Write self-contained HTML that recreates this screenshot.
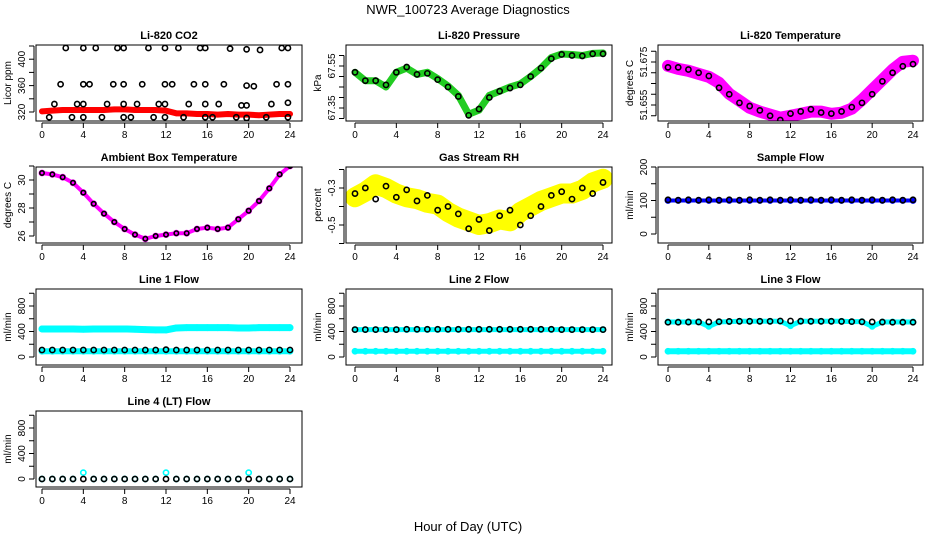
<!DOCTYPE html>
<html><head><meta charset="utf-8"><style>
html,body{margin:0;padding:0;background:#fff}
svg{display:block;font-family:"Liberation Sans",sans-serif}
</style></head><body>
<svg id="c" width="936" height="540" viewBox="0 0 936 540">
<text x="468" y="14" text-anchor="middle" font-size="13">NWR_100723  Average Diagnostics</text>
<text x="468" y="531" text-anchor="middle" font-size="13">Hour of Day (UTC)</text>
</svg>
<script>
const hours=[0,1,2,3,4,5,6,7,8,9,10,11,12,13,14,15,16,17,18,19,20,21,22,23,24];
const xTicks=[0,4,8,12,16,20,24];
// CO2
const co2Red=[321,322,323,323,323,323,323,324,324,323,323,323,322,318,318,317,317,316,317,316,316,315,316,317,317];
const co2BlackH=[0.7,1.2,1.8,2.3,2.9,3.4,4,4,4,4,4.6,5.2,5.8,6.3,6.9,7.3,7.9,7.9,7.9,7.9,8.6,9.2,9.7,10.3,10.8,11.3,11.9,11.9,11.9,11.9,12.6,13.2,13.7,14.2,14.7,15.3,15.8,15.8,15.8,15.8,16.5,17.1,17.6,18.2,18.8,19.3,19.8,19.8,19.8,19.8,20.5,21.1,21.7,22.2,22.7,23.2,23.8,23.8,23.8,23.8];
const co2BlackV=[312,332,362,417,312,332,332,417,362,312,362,417,312,332,362,417,417,362,332,312,312,332,362,417,312,332,417,362,332,312,362,417,312,332,362,417,417,362,332,312,312,332,362,416,312,330,415,360,330,311,359,414,312,332,362,417,417,362,334,312];
// Pressure
const presGreen=[67.52,67.48,67.48,67.45,67.52,67.54,67.51,67.52,67.49,67.455,67.41,67.32,67.34,67.41,67.43,67.45,67.465,67.50,67.54,67.59,67.607,67.605,67.60,67.61,67.612];
const presBlack=[67.52,67.48,67.48,67.46,67.52,67.545,67.51,67.515,67.485,67.45,67.405,67.315,67.345,67.40,67.43,67.445,67.46,67.50,67.54,67.585,67.605,67.60,67.598,67.608,67.608];
// Li-820 temperature
const tempMag=[51.6732,51.6718,51.6709,51.6695,51.6681,51.6653,51.6602,51.6570,51.6537,51.6519,51.6505,51.6491,51.6500,51.6509,51.6519,51.6519,51.6509,51.6514,51.6533,51.6574,51.6621,51.6667,51.6714,51.6751,51.6756];
const tempBlack=[51.6725,51.6725,51.6715,51.6700,51.6685,51.6630,51.6600,51.6560,51.6545,51.6525,51.6500,51.6480,51.6510,51.6520,51.6530,51.6515,51.6510,51.6520,51.6540,51.6560,51.6600,51.6660,51.6700,51.6730,51.6740];
// Ambient
const ambMag=[30.5,30.4,30.2,29.8,29.1,28.3,27.6,27.0,26.5,26.1,25.8,26.0,26.1,26.2,26.2,26.5,26.6,26.5,26.6,27.2,27.8,28.5,29.4,30.4,31.0];
// RH
const rhYellow=[-0.35,-0.32,-0.28,-0.30,-0.33,-0.35,-0.36,-0.38,-0.39,-0.43,-0.46,-0.48,-0.50,-0.49,-0.47,-0.48,-0.43,-0.40,-0.37,-0.35,-0.33,-0.33,-0.31,-0.27,-0.25];
const rhBlack=[-0.33,-0.30,-0.36,-0.29,-0.35,-0.31,-0.37,-0.34,-0.42,-0.40,-0.44,-0.52,-0.47,-0.53,-0.45,-0.42,-0.50,-0.45,-0.40,-0.34,-0.32,-0.36,-0.30,-0.33,-0.27];
// Sample flow
const sampBlue=[100,100,100,100,100,100,100,100,100,100,100,100,100,100,100,100,100,100,100,100,100,100,100,100,100];
const sampBlack=[102,101,102,101,102,101,102,101,102,101,102,101,102,101,102,101,102,101,102,101,102,101,102,101,102];
// Line flows
const l1Hi=[440,440,440,440,435,440,440,440,440,435,430,425,425,455,460,460,460,460,460,455,455,460,460,460,460];
const l1Lo=[90,90,90,90,90,90,90,90,90,90,90,90,90,90,90,90,90,90,90,90,90,90,90,90,90];
const l1Black=[110,110,110,110,110,110,110,110,110,110,110,110,115,110,110,110,110,110,110,110,110,110,110,110,110];
const l2Hi=[430,430,430,430,430,430,430,430,430,430,430,430,430,430,430,430,430,430,430,430,430,430,430,430,430];
const l2Lo=[90,90,90,90,90,90,90,90,90,90,90,90,90,90,90,90,90,90,90,90,90,90,90,90,90];
const l2Black=[430,430,430,430,430,435,435,435,435,435,435,435,435,435,435,435,435,435,435,435,430,430,430,430,430];
const l3Hi=[550,550,550,550,480,550,555,560,560,560,560,560,490,560,560,560,560,560,555,555,480,550,550,550,550];
const l3Lo=[90,90,90,90,90,90,90,90,90,90,90,90,90,90,90,90,90,90,90,90,90,90,90,90,90];
const l3Black=[545,545,548,550,550,555,558,560,560,560,560,565,565,562,560,560,560,558,555,552,550,548,545,545,545];
const l4Cyan=[0,0,0,0,100,0,0,0,0,0,0,0,100,0,0,0,0,0,0,0,100,0,0,0,0];
const l4Black=[0,0,0,0,0,0,0,0,0,0,0,0,0,0,0,0,0,0,0,0,0,0,0,0,0];

const svg=document.getElementById('c');
const NS='http://www.w3.org/2000/svg';
function mk(tag,attrs,parent){const e=document.createElementNS(NS,tag);for(const k in attrs)e.setAttribute(k,attrs[k]);parent.appendChild(e);return e;}
const cols=[{l:36,r:302,x0:42,x24:290},{l:346,r:612,x0:355,x24:603},{l:658,r:923,x0:668,x24:913}];
function panel(p){
  const c=cols[p.col];const top=45+p.row*122;const bot=top+76;
  const g=mk('g',{},svg);
  
  
  const xs=h=>c.x0+(c.x24-c.x0)*h/24;
  const ys=v=>top+p.y1+(v-p.v1)*(p.y2-p.y1)/(p.v2-p.v1);
  const t=mk('text',{x:(c.l+c.r)/2,y:top-6,'text-anchor':'middle','font-size':11,'font-weight':'bold'},g);t.textContent=p.title;
  
  
  const clip='clip'+p.name;
  const cp=mk('clipPath',{id:clip},g);mk('rect',{x:c.l,y:top,width:c.r-c.l,height:76},cp);
  const pg=mk('g',{'clip-path':'url(#'+clip+')'},g);
  p.series.forEach(s=>{
    const sg=mk('g',{},pg);
    
    
    if(s.band){mk('polyline',{points:s.y.map((v,i)=>xs(s.x[i])+','+ys(v)).join(' '),fill:'none',stroke:s.color,'stroke-width':s.band,'stroke-linejoin':'round','stroke-linecap':'round'},sg);}
    s.y.forEach((v,i)=>{mk('circle',{cx:xs(s.x[i]),cy:ys(v),r:s.r||2.6,fill:'none',stroke:s.color,'stroke-width':s.sw||1.6},sg);});
  });
  mk('rect',{x:c.l,y:top,width:c.r-c.l,height:76,fill:'none',stroke:'#000','stroke-width':1},g);
  const ax=mk('g',{},g);
  
  
  mk('line',{x1:c.x0,y1:bot+2,x2:c.x24,y2:bot+2,stroke:'#000'},ax);
  xTicks.forEach(h=>{mk('line',{x1:xs(h),y1:bot+2,x2:xs(h),y2:bot+7,stroke:'#000'},ax);const tt=mk('text',{x:xs(h),y:bot+17,'text-anchor':'middle','font-size':10},ax);tt.textContent=h;});
  const ay=mk('g',{},g);
  
  
  const yt=p.ticks.map(ys);
  mk('line',{x1:c.l-2,y1:Math.min(...yt),x2:c.l-2,y2:Math.max(...yt),stroke:'#000'},ay);
  p.ticks.forEach(v=>mk('line',{x1:c.l-7,y1:ys(v),x2:c.l-2,y2:ys(v),stroke:'#000'},ay));
  p.labels.forEach(v=>{const y=ys(v);const tt=mk('text',{x:c.l-11,y:y,'text-anchor':'middle','font-size':10,transform:'rotate(-90 '+(c.l-11)+' '+y+')'},ay);tt.textContent=v;});
  const yl=mk('text',{x:c.l-25,y:(top+bot)/2,'text-anchor':'middle','font-size':10,transform:'rotate(-90 '+(c.l-25)+' '+((top+bot)/2)+')'},g);yl.textContent=p.ylab;
  
  
}
const flowT=[0,200,400,600,800,1000],flowL=[0,400,800];
panel({name:'co2-panel',col:0,row:0,title:'Li-820 CO2',ylab:'Licor ppm',v1:420,y1:1,v2:320,y2:67,ticks:[320,340,360,380,400,420],labels:[320,360,400],
 series:[{name:'co2-avg',x:hours,y:co2Red,color:'#ff0000',band:6,r:2},{name:'co2-samples',x:co2BlackH,y:co2BlackV,color:'#000'}]});
panel({name:'pressure-panel',col:1,row:0,title:'Li-820 Pressure',ylab:'kPa',v1:67.55,y1:21,v2:67.35,y2:63,ticks:[67.30,67.35,67.40,67.45,67.50,67.55,67.60],labels:[67.35,67.55],
 series:[{name:'pressure-avg',x:hours,y:presGreen,color:'#22cc22',band:7},{name:'pressure-samples',x:hours,y:presBlack,color:'#000'}]});
panel({name:'temperature-panel',col:2,row:0,title:'Li-820 Temperature',ylab:'degrees C',v1:51.675,y1:17,v2:51.655,y2:60,ticks:[51.65,51.655,51.66,51.665,51.67,51.675,51.68],labels:[51.655,51.675],
 series:[{name:'temperature-avg',x:hours,y:tempMag,color:'#ff00ff',band:12},{name:'temperature-samples',x:hours,y:tempBlack,color:'#000'}]});
panel({name:'ambient-panel',col:0,row:1,title:'Ambient Box Temperature',ylab:'degrees C',v1:30,y1:13,v2:26,y2:69,ticks:[26,27,28,29,30,31],labels:[26,28,30],
 series:[{name:'ambient-avg',x:hours,y:ambMag,color:'#ff00ff',band:4},{name:'ambient-samples',x:hours,y:ambMag,color:'#000',r:2.2}]});
panel({name:'rh-panel',col:1,row:1,title:'Gas Stream RH',ylab:'percent',v1:-0.3,y1:21,v2:-0.5,y2:58,ticks:[-0.6,-0.5,-0.4,-0.3,-0.2],labels:[-0.5,-0.3],
 series:[{name:'rh-avg',x:hours,y:rhYellow,color:'#ffff00',band:20},{name:'rh-samples',x:hours,y:rhBlack,color:'#000'}]});
panel({name:'sample-flow-panel',col:2,row:1,title:'Sample Flow',ylab:'ml/min',v1:200,y1:0,v2:0,y2:67,ticks:[0,50,100,150,200],labels:[0,100,200],
 series:[{name:'sample-flow-avg',x:hours,y:sampBlue,color:'#0000ff',band:4},{name:'sample-flow-samples',x:hours,y:sampBlack,color:'#000'}]});
panel({name:'line1-panel',col:0,row:2,title:'Line 1 Flow',ylab:'ml/min',v1:0,y1:68,v2:800,y2:17,ticks:flowT,labels:flowL,
 series:[{name:'line1-high',x:hours,y:l1Hi,color:'#00ffff',band:7},{name:'line1-low',x:hours,y:l1Lo,color:'#00ffff',band:6},{name:'line1-samples',x:hours,y:l1Black,color:'#000'}]});
panel({name:'line2-panel',col:1,row:2,title:'Line 2 Flow',ylab:'ml/min',v1:0,y1:68,v2:800,y2:17,ticks:flowT,labels:flowL,
 series:[{name:'line2-high',x:hours,y:l2Hi,color:'#00ffff',band:5},{name:'line2-low',x:hours,y:l2Lo,color:'#00ffff',band:5},{name:'line2-samples',x:hours,y:l2Black,color:'#000'}]});
panel({name:'line3-panel',col:2,row:2,title:'Line 3 Flow',ylab:'ml/min',v1:0,y1:68,v2:800,y2:17,ticks:flowT,labels:flowL,
 series:[{name:'line3-high',x:hours,y:l3Hi,color:'#00ffff',band:5},{name:'line3-low',x:hours,y:l3Lo,color:'#00ffff',band:6},{name:'line3-samples',x:hours,y:l3Black,color:'#000'}]});
panel({name:'line4-panel',col:0,row:3,title:'Line 4 (LT) Flow',ylab:'ml/min',v1:0,y1:68,v2:800,y2:17,ticks:flowT,labels:flowL,
 series:[{name:'line4-cyan',x:hours,y:l4Cyan,color:'#00ffff'},{name:'line4-samples',x:hours,y:l4Black,color:'#000'}]});
</script>
</body></html>
